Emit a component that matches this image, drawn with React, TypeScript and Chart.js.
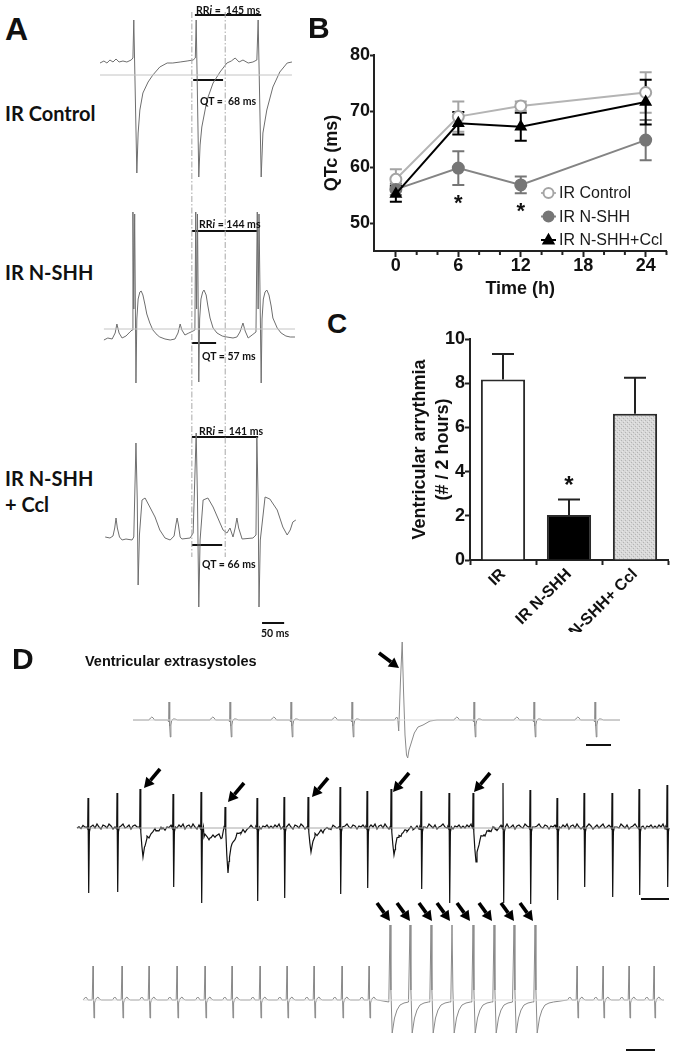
import React, { useEffect, useRef } from "react";
import { Chart, registerables } from "chart.js";
Chart.register(...registerables);

const SANS = '"Liberation Sans", Arial, Helvetica, sans-serif';
const CAL = 'Lato, Carlito, "Open Sans", sans-serif';

type P = [number, number];

// ================= Panel B : QTc over time =================
const B_TIMES = [0, 6, 12, 24];
const B_CONTROL = [57.8, 69.0, 70.9, 73.3];
const B_CONTROL_SEM = [1.8, 2.7, 0.8, 3.6];
const B_NSHH = [56.0, 59.8, 56.8, 64.8];
const B_NSHH_SEM = [1.0, 3.0, 1.5, 3.6];
const B_CCL = [55.2, 67.8, 67.2, 71.6];
const B_CCL_SEM = [1.4, 2.0, 2.5, 4.0];
const B_X_TICKS = [0, 6, 12, 18, 24];
const B_X_MINOR = [2, 4, 8, 10, 14, 16, 20, 22, 26];
const B_Y_TICKS = [50, 60, 70, 80];
const B_STAR_X = [6, 12];
const B_STAR_Y = [54.6, 53.2];
const B_LEGEND = ["IR Control", "IR N-SHH", "IR N-SHH+Ccl"];

// ================= Panel C : arrhythmia counts =================
const C_LABELS = ["IR", "IR N-SHH", "IR N-SHH+ Ccl"];
const C_VALUES = [8.17, 2.04, 6.62];
const C_ERR = [1.15, 0.7, 1.63];
const C_Y_TICKS = [0, 2, 4, 6, 8, 10];
const C_STAR_INDEX = 1;
const C_STAR_Y = 3.65;

// ================= Panel A : ECG traces (t in ms, amplitude) =================
const A_CONTROL: P[] = [[0,12],[9,14],[16,12],[23,15],[30,13],[37,16],[44,13],[53,14],[62,13],[72,15],[76,17],[78,55],[85,-98],[88,-58],[92,-35],[99,-18],[111,-7],[122,0],[138,8],[155,12],[168,12],[185,13],[201,14],[215,15],[220,17],[222,55],[228,-102],[231,-70],[235,-52],[247,-25],[261,-8],[277,3],[293,12],[303,14],[312,17],[321,13],[330,15],[342,12],[353,13],[362,15],[365,55],[372,-102],[376,-58],[385,-35],[399,-12],[415,3],[432,12],[443,13]];
const A_NSHH: P[] = [[9,-11],[18,-9],[28,-10],[35,-4],[39,5],[44,-4],[51,-9],[60,-7],[69,-3],[74,-1],[76,117],[78,20],[80,115],[83,-54],[85,10],[88,30],[92,37],[95,38],[99,34],[104,24],[108,15],[115,6],[122,-1],[132,-6],[138,-8],[150,-10],[162,-11],[173,-10],[180,-4],[185,5],[189,-1],[196,-6],[205,-4],[215,-2],[219,-1],[221,117],[223,20],[225,115],[228,-53],[230,10],[233,30],[237,37],[240,39],[245,34],[249,23],[254,11],[261,1],[270,-4],[282,-7],[293,-8],[307,-9],[316,-8],[323,-3],[330,6],[335,-2],[342,-9],[351,-6],[360,-3],[363,117],[365,20],[367,115],[372,-54],[374,10],[377,30],[381,37],[385,39],[390,34],[395,23],[399,11],[409,1],[418,-4],[429,-7],[439,-8],[450,-8]];
const A_CCL: P[] = [[12,3],[23,2],[30,4],[34,12],[37,22],[40,12],[45,3],[51,0],[60,1],[74,0],[78,3],[83,97],[86,40],[88,-45],[91,5],[97,40],[104,42],[115,33],[127,23],[138,10],[150,2],[162,0],[171,4],[175,15],[178,22],[181,15],[185,3],[189,1],[208,2],[215,7],[222,107],[225,40],[228,-67],[231,0],[238,40],[249,42],[261,33],[272,22],[284,10],[293,7],[300,12],[307,3],[312,12],[316,22],[320,12],[328,1],[353,2],[360,5],[362,103],[365,40],[367,-67],[370,0],[381,43],[392,41],[409,30],[422,13],[432,5],[439,10],[445,18],[452,20]];
const A_RR_START = [219, 212, 212];
const A_RR_END = [372, 365, 365];
const A_RR_LEVEL = [60, 98, 103];
const A_QT_START = [215, 212, 212];
const A_QT_END = [284, 268, 282];
const A_QT_LEVEL = [-5, -14, -5];
const A_GUIDES = [212, 289];
const A_SCALEBAR = [374, 425]; // 50 ms

// ================= Panel D : ECG strips (t in ms) =================
const D1_NORMAL_BEATS = [1690, 2300, 2910, 3520, 4740, 5340, 5950];
const D1_ECTOPIC_BEATS = [4030];
const D1_NORMAL_SHAPE: P[] = [[-200,0],[-185,2],[-172,3],[-158,2],[-145,0],[-12,0],[-4,-2],[0,18],[7,-6],[13,-17],[19,-5],[26,-1],[40,1],[60,1],[85,0]];
const D1_ECTOPIC_SHAPE: P[] = [[-85,0],[-72,2],[-62,3],[-52,1],[-43,-11],[-25,40],[-8,78],[5,30],[20,-15],[35,-35],[47,-38],[60,-30],[85,-22],[113,-13],[150,-7],[200,-5],[270,-1],[340,0]];

const D2_NORMAL_BEATS = [880, 1170, 1730, 2010, 2570, 2840, 3400, 3670, 4210, 4490, 5030, 5300, 5570, 5840, 6120, 6390, 6670];
const D2_NORMAL_UP = [30, 35, 34, 36, 30, 31, 41, 37, 37, 35, 45, 38, 30, 35, 35, 39, 43];
const D2_NORMAL_DOWN = [-65, -64, -59, -75, -73, -70, -66, -60, -61, -75, -75, -76, -72, -59, -69, -67, -59];
const D2_ECTOPIC_BEATS = [1400, 2250, 3080, 3910, 4730];
const D2_ECTOPIC_UP = [39, 21, 31, 39, 35];
const D2_ECTOPIC_TROUGH = [-29, -45, -24, -27, -34];
// [dt, weight of up, weight of down/trough, constant]
const D2_NORMAL_SHAPE: [number, number, number, number][] = [[-12,0,0,1],[-3,0,0,-1],[0,1,0,0],[7,0,1,0],[14,0,0,-4],[24,0,0,1]];
const D2_ECTOPIC_SHAPE: [number, number, number, number][] = [[-10,0,0,1],[-3,0,0,0],[0,1,0,0],[8,0,0,-4],[18,0,0.6,0],[30,0,1,0],[45,0,0.65,0],[70,0,0.35,0],[110,0,0.2,0],[160,0,0.1,0],[220,0,0.03,0]];
const D2_LOW_SEGMENT: P[] = [[2040,-9],[2100,-10],[2160,-8],[2220,-10]];
const D2_NOISE = [1,-1,2,0,3,-2,1,2,-1,3,0,-2,2,1,-1,3,1,-2,0,2,-1,1,3,-1,0,2,-2,1,2,0,-1,3,1,-1,2,-2,0,1,3,0,-1,2,1,-2,1,0,2,-1];

const D3_NORMAL_BEATS = [930, 1220, 1490, 1770, 2050, 2320, 2600, 2870, 3140, 3420, 3690, 5770, 6030, 6290, 6540];
const D3_VT_BEATS = [3900, 4100, 4310, 4520, 4730, 4940, 5140, 5350];
const D3_NORMAL_SHAPE: P[] = [[-95,0],[-82,2],[-72,3],[-62,2],[-50,0],[-8,0],[0,34],[5,4],[10,-18],[16,-3],[24,0],[36,2],[50,3],[64,1],[85,0]];
const D3_VT_SHAPE: P[] = [[-12,-2],[0,75],[9,10],[22,-33],[45,-18],[70,-10],[100,-5],[140,-3],[185,-2]];

const D_SPANS = [[1330, 6200], [770, 6690], [830, 6640]];
const D_SCALEBARS = [[5860, 6110], [6410, 6690], [6260, 6550]];
const D1_ARROW_X = [3990];
const D1_ARROW_Y = [52];
const D2_ARROW_X = [1440, 2280, 3120, 3930, 4740];
const D2_ARROW_Y = [40, 26, 31, 36, 36];
const D3_ARROW_X = [3900, 4100, 4320, 4500, 4700, 4920, 5140, 5330];
const D3_ARROW_Y = [79, 79, 79, 79, 79, 79, 79, 79];

// ---------- layout constants (px) ----------
const A_BASE = [75, 329, 540];
const D_BASE = [80, 188, 360];

// ---------- helpers ----------
function seg(x0: number, x1: number, y: number) {
  return [{ x: x0, y }, { x: x1, y }];
}
function lineDs(data: any[], color: string, width = 1, dash: number[] = []) {
  return { type: "line", data, borderColor: color, borderWidth: width, borderDash: dash, pointRadius: 0, tension: 0, fill: false };
}
function placeFixed(beats: number[], shape: P[]): P[] {
  const out: P[] = [];
  for (const b of beats) for (const [dt, a] of shape) out.push([b + dt, a]);
  return out;
}
function placeScaled(beats: number[], ups: number[], downs: number[], shape: [number, number, number, number][]): P[] {
  const out: P[] = [];
  beats.forEach((b, i) => {
    for (const [dt, ku, kd, c] of shape) out.push([b + dt, ku * ups[i] + kd * downs[i] + c]);
  });
  return out;
}
function assemble(start: number, end: number, pts: P[]): P[] {
  const s = [...pts].filter((p) => p[0] > start && p[0] < end).sort((p, q) => p[0] - q[0]);
  return [[start, 0], ...s, [end, 0]];
}
function interp(pts: P[], t: number) {
  for (let i = 1; i < pts.length; i++) {
    if (pts[i][0] >= t) {
      const [x0, y0] = pts[i - 1];
      const [x1, y1] = pts[i];
      return x1 === x0 ? y1 : y0 + ((y1 - y0) * (t - x0)) / (x1 - x0);
    }
  }
  return 0;
}
function withNoise(pts: P[], start: number, end: number, step: number, noise: number[], beats: number[], before: number, after: number): P[] {
  const extra: P[] = [];
  let k = 0;
  for (let t = start + step; t < end; t += step, k++) {
    if (beats.some((b) => t > b - before && t < b + after)) continue;
    extra.push([t, interp(pts, t) + noise[k % noise.length]]);
  }
  return [...pts, ...extra].sort((p, q) => p[0] - q[0]);
}

const baseOpts = (xmin: number, xmax: number, ymin: number, ymax: number) => ({
  animation: false,
  responsive: false,
  events: [],
  layout: { padding: 0 },
  plugins: { legend: { display: false }, tooltip: { enabled: false } },
  scales: {
    x: { type: "linear", display: false, min: xmin, max: xmax },
    y: { type: "linear", display: false, min: ymin, max: ymax },
  },
});

// ---------- chart container ----------
function ChartBox(props: { left: number; top: number; width: number; height: number; make: () => any }) {
  const ref = useRef<HTMLCanvasElement | null>(null);
  useEffect(() => {
    if (!ref.current) return;
    const chart = new Chart(ref.current, props.make());
    return () => chart.destroy();
  }, []);
  const { left, top, width, height } = props;
  return (
    <div style={{ position: "absolute", left, top, width, height }}>
      <canvas ref={ref} width={width} height={height} style={{ display: "block", width, height }} />
    </div>
  );
}

// ---------- Panel A ----------
function makeA() {
  const traces = [A_CONTROL, A_NSHH, A_CCL];
  const ds: any[] = [];
  ds.push(lineDs(seg(A_CONTROL[0][0], A_CONTROL[A_CONTROL.length - 1][0], -A_BASE[0]), "#c4c4c4", 1));
  ds.push(lineDs(seg(A_NSHH[0][0], A_NSHH[A_NSHH.length - 1][0], -A_BASE[1]), "#c4c4c4", 1));
  A_GUIDES.forEach((t) => ds.push(lineDs([{ x: t, y: -12 }, { x: t, y: -557 }], "#a8a8a8", 1, [6, 2, 1.5, 2])));
  traces.forEach((tr, i) => ds.push(lineDs(tr.map(([t, a]) => ({ x: t, y: a - A_BASE[i] })), "#6e6e6e", 1)));
  for (let i = 0; i < 3; i++) {
    ds.push(lineDs(seg(A_RR_START[i], A_RR_END[i], A_RR_LEVEL[i] - A_BASE[i]), "#111", 2));
    ds.push(lineDs(seg(A_QT_START[i], A_QT_END[i], A_QT_LEVEL[i] - A_BASE[i]), "#111", 2));
  }
  ds.push(lineDs(seg(A_SCALEBAR[0], A_SCALEBAR[1], -623), "#111", 2));
  return { type: "line", data: { datasets: ds }, options: baseOpts(0, 461.6, -650, 0) };
}

// ---------- Panel B ----------
function drawMarker(ctx: CanvasRenderingContext2D, style: string, x: number, y: number, r: number, fill: string, stroke: string) {
  ctx.beginPath();
  if (style === "triangle") {
    ctx.moveTo(x, y - r * 1.05);
    ctx.lineTo(x + r, y + r * 0.7);
    ctx.lineTo(x - r, y + r * 0.7);
    ctx.closePath();
  } else {
    ctx.arc(x, y, r, 0, Math.PI * 2);
  }
  ctx.fillStyle = fill;
  ctx.fill();
  ctx.lineWidth = 2;
  ctx.strokeStyle = stroke;
  ctx.stroke();
}

function makeB() {
  const mk = (vals: number[]) => B_TIMES.map((t, i) => ({ x: t, y: vals[i] }));
  const series = [
    { label: B_LEGEND[0], vals: B_CONTROL, sem: B_CONTROL_SEM, line: "#b4b4b4", mark: "#a4a4a4", fill: "#ffffff", style: "circle", order: 2 },
    { label: B_LEGEND[1], vals: B_NSHH, sem: B_NSHH_SEM, line: "#848484", mark: "#767676", fill: "#767676", style: "circle", order: 1 },
    { label: B_LEGEND[2], vals: B_CCL, sem: B_CCL_SEM, line: "#000000", mark: "#000000", fill: "#000000", style: "triangle", order: 0 },
  ];
  const tickFont = { family: SANS, size: 18, weight: "bold" };
  const plugin = {
    id: "bExtras",
    beforeDatasetsDraw(chart: any) {
      const { ctx } = chart;
      const x = chart.scales.x, y = chart.scales.y;
      ctx.save();
      ctx.lineWidth = 2;
      series.forEach((s) => {
        ctx.strokeStyle = s.mark;
        B_TIMES.forEach((t, i) => {
          const px = x.getPixelForValue(t);
          const hi = y.getPixelForValue(s.vals[i] + s.sem[i]);
          const lo = y.getPixelForValue(s.vals[i] - s.sem[i]);
          ctx.beginPath();
          ctx.moveTo(px, hi); ctx.lineTo(px, lo);
          ctx.moveTo(px - 6, hi); ctx.lineTo(px + 6, hi);
          ctx.moveTo(px - 6, lo); ctx.lineTo(px + 6, lo);
          ctx.stroke();
        });
      });
      ctx.restore();
    },
    afterDraw(chart: any) {
      const { ctx, chartArea } = chart;
      const x = chart.scales.x, y = chart.scales.y;
      ctx.save();
      ctx.strokeStyle = "#222";
      ctx.lineWidth = 2;
      B_X_MINOR.forEach((v) => {
        const px = x.getPixelForValue(v);
        ctx.beginPath(); ctx.moveTo(px, chartArea.bottom); ctx.lineTo(px, chartArea.bottom + 4); ctx.stroke();
      });
      ctx.fillStyle = "#111";
      ctx.font = `bold 22px ${SANS}`;
      ctx.textAlign = "center";
      ctx.textBaseline = "alphabetic";
      B_STAR_X.forEach((v, i) => {
        ctx.fillText("*", x.getPixelForValue(v), y.getPixelForValue(B_STAR_Y[i]) + 12.5);
      });
      ctx.font = `16px ${SANS}`;
      ctx.textAlign = "left";
      ctx.textBaseline = "middle";
      series.forEach((s, i) => {
        const ly = chartArea.top + 138 + i * 23.5;
        const lx = chartArea.left + 167;
        ctx.strokeStyle = s.line;
        ctx.lineWidth = 2;
        ctx.beginPath(); ctx.moveTo(lx, ly); ctx.lineTo(lx + 15, ly); ctx.stroke();
        drawMarker(ctx, s.style, lx + 7.5, ly, 5, s.fill, s.mark);
        ctx.fillStyle = "#1a1a1a";
        ctx.fillText(s.label, lx + 18, ly + 1);
      });
      ctx.restore();
    },
  };
  return {
    type: "line",
    data: {
      datasets: series.map((s) => ({
        label: s.label,
        data: mk(s.vals),
        borderColor: s.line,
        borderWidth: 2,
        pointStyle: s.style,
        pointRadius: 5.5,
        pointBorderWidth: 2,
        pointBorderColor: s.mark,
        pointBackgroundColor: s.fill,
        tension: 0,
        fill: false,
        order: s.order,
        clip: false,
      })),
    },
    options: {
      animation: false,
      responsive: false,
      events: [],
      layout: { padding: { top: 15, right: 6, left: 0, bottom: 0 } },
      plugins: { legend: { display: false }, tooltip: { enabled: false } },
      scales: {
        x: {
          type: "linear",
          min: -2.1,
          max: 26,
          afterBuildTicks: (s: any) => { s.ticks = B_X_TICKS.map((v) => ({ value: v })); },
          afterFit: (s: any) => { s.height = 49; },
          grid: { display: true, drawOnChartArea: false, drawTicks: true, tickLength: 6, tickWidth: 2, tickColor: "#222", color: "#222" },
          border: { display: true, color: "#222", width: 2 },
          ticks: { font: tickFont, color: "#111", padding: -2, maxRotation: 0, autoSkip: false },
          title: { display: true, text: "Time (h)", font: tickFont, color: "#111", padding: { top: 0, bottom: 0 } },
        },
        y: {
          type: "linear",
          min: 45,
          max: 80,
          afterBuildTicks: (s: any) => { s.ticks = B_Y_TICKS.map((v) => ({ value: v })); },
          afterFit: (s: any) => { s.width = 57; },
          grid: { display: true, drawOnChartArea: false, drawTicks: true, tickLength: 4, tickWidth: 2, tickColor: "#222", color: "#222" },
          border: { display: true, color: "#222", width: 2 },
          ticks: { font: tickFont, color: "#111", padding: 0 },
          title: { display: true, text: "QTc (ms)", font: tickFont, color: "#111", padding: { top: 4, bottom: 0 } },
        },
      },
    },
    plugins: [plugin],
  };
}

// ---------- Panel C ----------
function makeC() {
  const pc = document.createElement("canvas");
  pc.width = 4; pc.height = 4;
  const pctx = pc.getContext("2d")!;
  pctx.fillStyle = "#d8d8d8"; pctx.fillRect(0, 0, 4, 4);
  pctx.fillStyle = "#b4b4b4"; pctx.fillRect(0, 0, 1, 1); pctx.fillRect(2, 2, 1, 1);
  pctx.fillStyle = "#e6e6e6"; pctx.fillRect(1, 3, 1, 1); pctx.fillRect(3, 1, 1, 1);
  const pattern = pctx.createPattern(pc, "repeat");
  const font = { family: SANS, size: 18, weight: "bold" };
  const plugin = {
    id: "cExtras",
    afterDatasetsDraw(chart: any) {
      const { ctx } = chart;
      const y = chart.scales.y, x = chart.scales.x;
      const meta = chart.getDatasetMeta(0);
      ctx.save();
      ctx.strokeStyle = "#222";
      ctx.lineWidth = 2;
      meta.data.forEach((bar: any, i: number) => {
        const top = y.getPixelForValue(C_VALUES[i]);
        const hi = y.getPixelForValue(C_VALUES[i] + C_ERR[i]);
        ctx.beginPath();
        ctx.moveTo(bar.x, top); ctx.lineTo(bar.x, hi);
        ctx.moveTo(bar.x - 11, hi); ctx.lineTo(bar.x + 11, hi);
        ctx.stroke();
      });
      ctx.fillStyle = "#111";
      ctx.font = `bold 24px ${SANS}`;
      ctx.textAlign = "center";
      ctx.textBaseline = "alphabetic";
      ctx.fillText("*", x.getPixelForValue(C_STAR_INDEX), y.getPixelForValue(C_STAR_Y) + 13.7);
      ctx.restore();
    },
  };
  return {
    type: "bar",
    data: {
      labels: C_LABELS,
      datasets: [
        {
          data: C_VALUES,
          backgroundColor: ["#ffffff", "#000000", pattern],
          borderColor: "#2a2a2a",
          borderWidth: 2,
          barPercentage: 0.67,
          categoryPercentage: 1,
        },
      ],
    },
    options: {
      animation: false,
      responsive: false,
      events: [],
      layout: { padding: { top: 19, right: 6, left: 0, bottom: 0 } },
      plugins: { legend: { display: false }, tooltip: { enabled: false } },
      scales: {
        x: {
          afterFit: (s: any) => { s.height = 72; },
          grid: { display: true, drawOnChartArea: false, drawTicks: true, tickLength: 5, tickWidth: 2, tickColor: "#222", color: "#222", offset: true },
          border: { display: true, color: "#222", width: 2 },
          ticks: { font: { family: SANS, size: 16, weight: "bold" }, color: "#111", padding: 0, minRotation: 45, maxRotation: 45, autoSkip: false },
        },
        y: {
          min: 0,
          max: 10,
          afterBuildTicks: (s: any) => { s.ticks = C_Y_TICKS.map((v) => ({ value: v })); },
          afterFit: (s: any) => { s.width = 61; },
          grid: { display: true, drawOnChartArea: false, drawTicks: true, tickLength: 5, tickWidth: 2, tickColor: "#222", color: "#222" },
          border: { display: true, color: "#222", width: 2 },
          ticks: { font, color: "#111", padding: 0 },
          title: {
            display: true,
            text: ["Ventricular arrythmia", "(# / 2 hours)"],
            font: { family: SANS, size: 18, weight: "bold", lineHeight: 1.25 },
            color: "#111",
            padding: { top: 0, bottom: 0 },
          },
        },
      },
    },
    plugins: [plugin],
  };
}

// ---------- Panel D ----------
function makeD() {
  const d1 = assemble(D_SPANS[0][0], D_SPANS[0][1], [
    ...placeFixed(D1_NORMAL_BEATS, D1_NORMAL_SHAPE),
    ...placeFixed(D1_ECTOPIC_BEATS, D1_ECTOPIC_SHAPE),
  ]);
  const d2base = assemble(D_SPANS[1][0], D_SPANS[1][1], [
    ...placeScaled(D2_NORMAL_BEATS, D2_NORMAL_UP, D2_NORMAL_DOWN, D2_NORMAL_SHAPE),
    ...placeScaled(D2_ECTOPIC_BEATS, D2_ECTOPIC_UP, D2_ECTOPIC_TROUGH, D2_ECTOPIC_SHAPE),
    ...D2_LOW_SEGMENT,
  ]);
  const d2 = withNoise(d2base, D_SPANS[1][0], D_SPANS[1][1], 20, D2_NOISE, [...D2_NORMAL_BEATS, ...D2_ECTOPIC_BEATS], 14, 34);
  const d3 = assemble(D_SPANS[2][0], D_SPANS[2][1], [
    ...placeFixed(D3_NORMAL_BEATS, D3_NORMAL_SHAPE),
    ...placeFixed(D3_VT_BEATS, D3_VT_SHAPE),
  ]);
  const traces = [d1, d2, d3];
  const colors = ["#8a8a8a", "#111111", "#8a8a8a"];
  const widths = [1, 1.2, 1];
  const refColors = ["#d6d6d6", "#a8a8a8", "#dddddd"];
  const ds: any[] = [];
  traces.forEach((tr, i) => {
    ds.push(lineDs(seg(D_SPANS[i][0], D_SPANS[i][1], -D_BASE[i]), refColors[i], 1));
    ds.push(lineDs(tr.map(([t, a]) => ({ x: t, y: a - D_BASE[i] })), colors[i], widths[i]));
  });
  const barY = [-105, -259, -410];
  D_SCALEBARS.forEach((b, i) => ds.push(lineDs(seg(b[0], b[1], barY[i]), "#111", 2)));

  const arrows: { x: number; y: number; dx: number; dy: number }[] = [];
  D1_ARROW_X.forEach((x, i) => arrows.push({ x, y: D1_ARROW_Y[i] - D_BASE[0], dx: -20, dy: -15 }));
  D2_ARROW_X.forEach((x, i) => arrows.push({ x, y: D2_ARROW_Y[i] - D_BASE[1], dx: 16, dy: -19 }));
  D3_ARROW_X.forEach((x, i) => arrows.push({ x, y: D3_ARROW_Y[i] - D_BASE[2], dx: -13, dy: -18 }));

  const plugin = {
    id: "arrows",
    afterDatasetsDraw(chart: any) {
      const { ctx } = chart;
      const sx = chart.scales.x, sy = chart.scales.y;
      ctx.save();
      ctx.fillStyle = "#000";
      ctx.strokeStyle = "#000";
      for (const a of arrows) {
        const tx = sx.getPixelForValue(a.x), ty = sy.getPixelForValue(a.y);
        const ox = tx + a.dx, oy = ty + a.dy;
        const ang = Math.atan2(ty - oy, tx - ox);
        const hl = 10, hw = 5.5;
        const bx = tx - hl * Math.cos(ang), by = ty - hl * Math.sin(ang);
        ctx.lineWidth = 3.6;
        ctx.beginPath(); ctx.moveTo(ox, oy); ctx.lineTo(bx, by); ctx.stroke();
        ctx.beginPath();
        ctx.moveTo(tx, ty);
        ctx.lineTo(bx + hw * Math.sin(ang), by - hw * Math.cos(ang));
        ctx.lineTo(bx - hw * Math.sin(ang), by + hw * Math.cos(ang));
        ctx.closePath();
        ctx.fill();
      }
      ctx.restore();
    },
  };
  return { type: "line", data: { datasets: ds }, options: baseOpts(0, 6740, -415, 0), plugins: [plugin] };
}

// ---------- text ----------
type Txt = { t: React.ReactNode; x: number; y: number; s: number; f?: string; w?: number };
const RRi = (v: string) => (<>RR<i>i</i>{v}</>);
const TEXTS: Txt[] = [
  { t: "A", x: 5, y: 29, s: 32, f: SANS },
  { t: "IR Control", x: 5, y: 113, s: 20, f: CAL },
  { t: "IR N-SHH", x: 5, y: 272, s: 20, f: CAL },
  { t: "IR N-SHH", x: 5, y: 478, s: 20, f: CAL },
  { t: "+ Ccl", x: 5, y: 504, s: 20, f: CAL },
  { t: RRi(" =  145 ms"), x: 196, y: 10, s: 10.5, f: CAL },
  { t: "QT =  68 ms", x: 200, y: 101, s: 10.5, f: CAL },
  { t: RRi(" = 144 ms"), x: 199, y: 224, s: 10.5, f: CAL },
  { t: "QT = 57 ms", x: 202, y: 356, s: 10.5, f: CAL },
  { t: RRi(" =  141 ms"), x: 199, y: 431, s: 10.5, f: CAL },
  { t: "QT = 66 ms", x: 202, y: 564, s: 10.5, f: CAL },
  { t: "50 ms", x: 261, y: 633, s: 10.5, f: CAL },
  { t: "B", x: 308, y: 28, s: 30, f: SANS },
  { t: "C", x: 327, y: 324, s: 28, f: SANS },
  { t: "D", x: 12, y: 659, s: 30, f: SANS },
  { t: "Ventricular extrasystoles", x: 85, y: 661, s: 14.5, f: SANS },
];

export default function App() {
  return (
    <div style={{ position: "absolute", left: 0, top: 0, width: 674, height: 1055, overflow: "hidden", background: "#fff" }}>
      <ChartBox left={100} top={0} width={200} height={650} make={makeA} />
      <ChartBox left={317} top={40} width={357} height={260} make={makeB} />
      <ChartBox left={409} top={320} width={265} height={312} make={makeC} />
      <ChartBox left={0} top={640} width={674} height={415} make={makeD} />
      {TEXTS.map((d, i) => (
        <div
          key={i}
          style={{
            position: "absolute",
            left: d.x,
            top: d.y,
            transform: "translateY(-50%)",
            fontFamily: d.f || SANS,
            fontSize: d.s,
            fontWeight: d.w || 700,
            lineHeight: 1,
            whiteSpace: "pre",
            color: "#111",
          }}
        >
          {d.t}
        </div>
      ))}
    </div>
  );
}
